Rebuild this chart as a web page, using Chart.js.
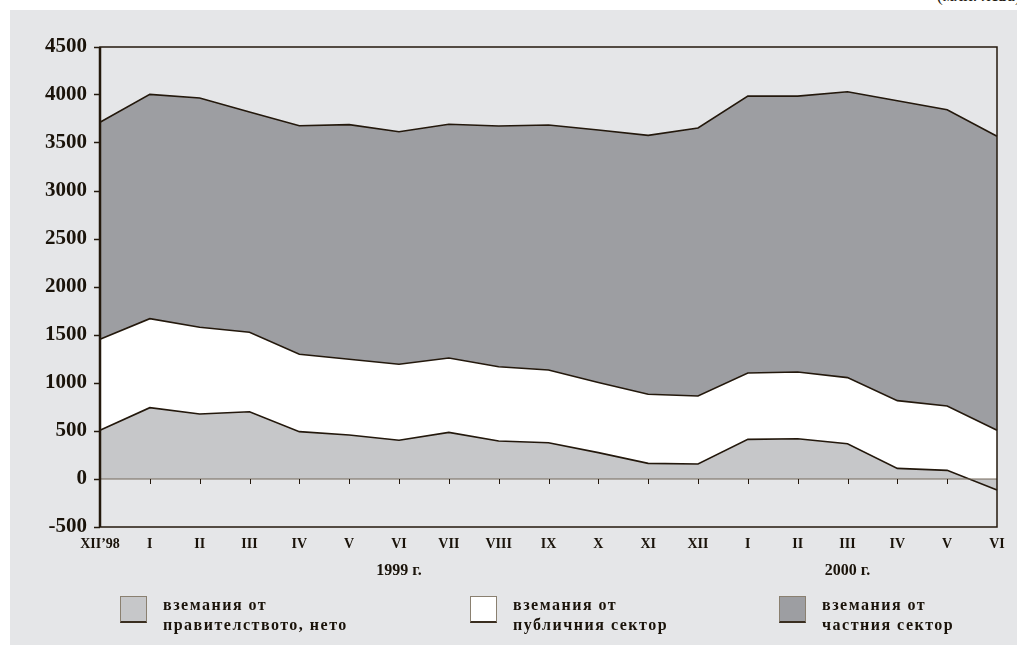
<!DOCTYPE html>
<html>
<head>
<meta charset="utf-8">
<script src="https://cdn.jsdelivr.net/npm/chart.js@4.4.1/dist/chart.umd.min.js"></script>
<style>
  body { margin: 0; background: #ffffff; width: 1017px; height: 645px; position: relative; overflow: hidden; font-family: 'Liberation Serif', serif; }
  #panel { position: absolute; left: 10px; top: 10px; width: 1007px; height: 635px; background: #e5e6e8; }
  #unit { position: absolute; right: -4px; top: -15px; font-size: 18px; color: #231a10; }
  #wrap { position: absolute; left: 0; top: 0; width: 1017px; height: 645px; }
  .leg { position: absolute; top: 596px; display: flex; align-items: flex-start; }
  .leg .box { width: 27px; height: 27px; border: 1px solid #8a8070; border-bottom: 2px solid #3a2e20; box-sizing: border-box; }
  .leg .txt { margin-left: 16px; margin-top: -1px; font-weight: bold; font-size: 16px; line-height: 20px; letter-spacing: 1.5px; color: #1a130a; white-space: pre; }
</style>
</head>
<body>
<div id="panel"></div>
<div id="unit">(млн. лева)</div>
<div id="wrap"><canvas id="myChart" width="1017" height="645"></canvas></div>
<div id="legend"></div>
<script>
// months, with the year written under one month of each year
const months = ['XII\u201998', 'I', 'II', 'III', 'IV', 'V', 'VI', 'VII', 'VIII', 'IX', 'X', 'XI', 'XII', 'I', 'II', 'III', 'IV', 'V', 'VI'];
const years = ['', '', '', '', '', '', '1999 г.', '', '', '', '', '', '', '', '', '2000 г.', '', '', ''];

// claims, million leva
const govClaims = [507, 743, 677, 701, 493, 458, 403, 486, 396, 378, 275, 163, 156, 413, 420, 368, 111, 90, -115];
const publicClaims = [948, 927, 903, 827, 806, 789, 792, 774, 774, 757, 730, 719, 709, 691, 695, 688, 705, 670, 622];
const privateClaims = [2261, 2337, 2389, 2295, 2381, 2444, 2423, 2435, 2507, 2552, 2630, 2698, 2791, 2884, 2873, 2978, 3125, 3087, 3063];

const seriesNames = ['вземания от\nправителството, нето', 'вземания от\nпубличния сектор', 'вземания от\nчастния сектор'];
const seriesColors = ['#c6c7c9', '#ffffff', '#9d9ea2'];

const yTicks = { min: -500, max: 4500, step: 500 };

const lineColor = '#23180c';

const framePlugin = {
    id: 'frame',
    afterDatasetsDraw(chart) {
        const ctx = chart.ctx;
        const a = chart.chartArea;
        const x = chart.scales.x;
        const y = chart.scales.y;
        const y0 = y.getPixelForValue(0);
        ctx.save();
        // zero line
        ctx.strokeStyle = '#75695a';
        ctx.lineWidth = 1;
        ctx.beginPath();
        ctx.moveTo(a.left, y0);
        ctx.lineTo(a.right, y0);
        ctx.stroke();
        // category ticks on the zero line
        ctx.strokeStyle = lineColor;
        ctx.beginPath();
        for (let i = 1; i < months.length - 1; i++) {
            const px = Math.round(x.getPixelForValue(i)) + 0.5;
            ctx.moveTo(px, y0);
            ctx.lineTo(px, y0 + 5);
        }
        ctx.stroke();
        // frame
        ctx.lineWidth = 1.5;
        ctx.strokeRect(a.left, a.top, a.right - a.left, a.bottom - a.top);
        ctx.lineWidth = 2.5;
        ctx.beginPath();
        ctx.moveTo(a.left, a.top);
        ctx.lineTo(a.left, a.bottom);
        ctx.stroke();
        ctx.restore();
    }
};

const datasets = [govClaims, publicClaims, privateClaims].map((values, i) => ({
    label: seriesNames[i],
    data: values,
    backgroundColor: seriesColors[i],
    borderColor: lineColor,
    borderWidth: 1.6,
    pointRadius: 0,
    tension: 0,
    fill: i === 0 ? 'origin' : '-1'
}));

const tickFont = (size) => ({ family: 'Liberation Serif', weight: 'bold', size: size });

const ctx = document.getElementById('myChart').getContext('2d');
const chart = new Chart(ctx, {
    type: 'line',
    data: { labels: months, datasets: datasets },
    plugins: [framePlugin],
    options: {
        responsive: false,
        animation: false,
        layout: { padding: { top: 47, right: 20, left: 0, bottom: 0 } },
        plugins: {
            legend: { display: false },
            tooltip: { enabled: false }
        },
        scales: {
            x: {
                weight: 0,
                offset: false,
                grid: { display: false },
                border: { display: false },
                ticks: { autoSkip: false, maxRotation: 0, padding: 1, color: '#1a130a', font: tickFont(14) },
                afterFit(scale) { scale.height = 26; }
            },
            years: {
                type: 'category',
                position: 'bottom',
                weight: 1,
                labels: years,
                offset: false,
                grid: { display: false },
                border: { display: false },
                ticks: { autoSkip: false, maxRotation: 0, padding: 0, color: '#1a130a', font: tickFont(16) },
                afterFit(scale) { scale.height = 92; }
            },
            y: {
                stacked: 'single',
                min: yTicks.min,
                max: yTicks.max,
                grid: { drawOnChartArea: false, drawTicks: true, tickLength: 6, color: lineColor, tickWidth: 1.5 },
                border: { display: false },
                ticks: {
                    stepSize: yTicks.step,
                    padding: 7,
                    color: '#1a130a',
                    font: tickFont(21),
                    callback: (v) => String(v)
                },
                afterFit(scale) { scale.width = 100; }
            }
        }
    }
});

// legend as html, from the datasets
const legendX = [120, 470, 779];
const legend = document.getElementById('legend');
chart.data.datasets.forEach((ds, i) => {
    const item = document.createElement('div');
    item.className = 'leg';
    item.style.left = legendX[i] + 'px';
    item.innerHTML = '<div class="box" style="background:' + ds.backgroundColor + '"></div><div class="txt"></div>';
    item.querySelector('.txt').textContent = ds.label;
    legend.appendChild(item);
});
</script>
</body>
</html>
